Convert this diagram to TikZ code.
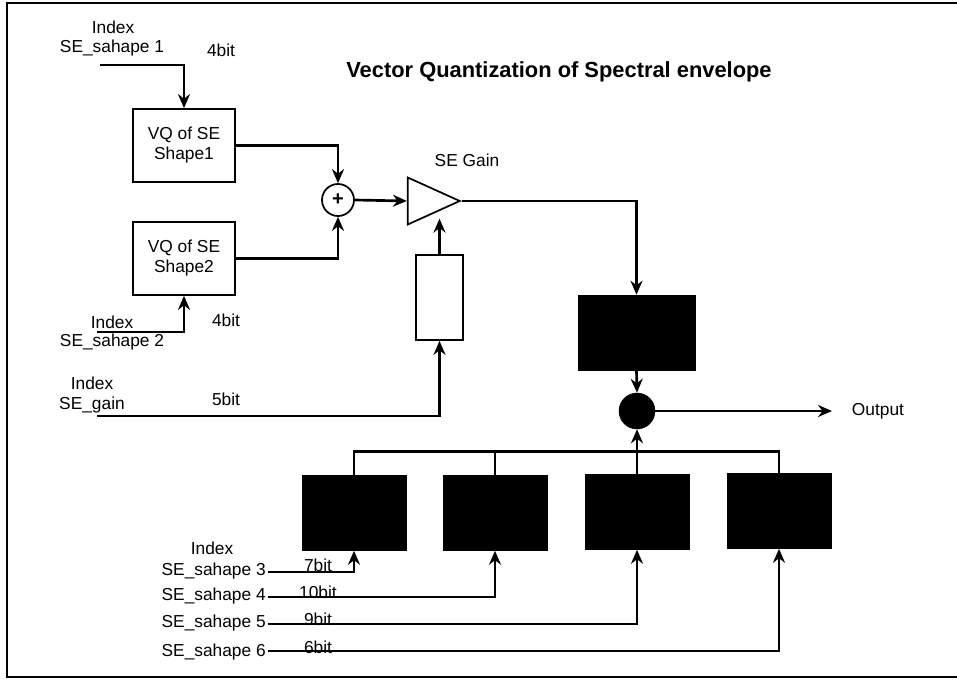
\documentclass[tikz,border=0pt]{standalone}
\usepackage{fontspec}
\setmainfont{Liberation Sans}
\usepackage{tikz}
\usetikzlibrary{positioning,arrows.meta,shapes.geometric}

\begin{document}
\begin{tikzpicture}[
  x=0.75pt, y=-0.75pt,
  font=\fontsize{13}{15}\selectfont,
  blk/.style={draw, line width=1.3pt, fill=white, minimum width=76.5pt, minimum height=54.75pt, inner sep=0pt, align=center},
  dark/.style={draw, fill=black, minimum width=78pt, minimum height=56.25pt, inner sep=0pt},
  ln/.style={line width=2pt},
  arr/.style={line width=2pt, -{Stealth[length=10.5pt, width=9pt]}},
  lbl/.style={inner sep=0pt}]
\useasboundingbox (0,0) rectangle (957,679);
% frame and title
\draw[line width=1.6pt] (957,3) -- (7,3) -- (7,677) -- (957,677);
\node[lbl, font=\fontsize{16.4}{18}\selectfont\bfseries] (title) at (559,72) {Vector Quantization of Spectral envelope};
% shape codebooks and sum
\node[blk] (vqa) at (184,145.5) {VQ of SE\\Shape1};
\node[blk] (vqb) at (184,258.5) {VQ of SE\\Shape2};
\node[draw, circle, line width=1.3pt, minimum size=24pt, inner sep=0pt, font=\fontsize{15}{15}\selectfont\bfseries] (sum) at (338,200) {+};
\draw[arr] (vqa.east) -| (sum.north);
\draw[arr] (vqb.east) -| (sum.south);
% inputs of the shape codebooks
\node[lbl] (ia) at (113,27) {Index};
\node[lbl] (sa) at (112,48) {SE\_sahape 1};
\node[lbl] (ba) at (221,50) {4bit};
\coordinate (ina) at (100,65);
\draw[arr] (ina) -| (vqa.north);
\node[lbl] (ib) at (112,322) {Index};
\node[lbl] (sb) at (112,342) {SE\_sahape 2};
\node[lbl] (bb) at (226,320) {4bit};
\coordinate (inb) at (97,332);
\draw[arr] (inb) -| (vqb.south);
% gain
\node[draw, isosceles triangle, isosceles triangle stretches, line width=1.3pt, minimum width=35.25pt, minimum height=39pt, inner sep=0pt, anchor=apex] (amp) at (462,201) {};
\node[lbl] (gl) at (467,160) {SE Gain};
\draw[arr] (sum.east) -- (amp.west);
\node[draw, line width=1.3pt, fill=white, minimum width=35.25pt, minimum height=63.75pt, inner sep=0pt] (gdec) at (439.5,297.5) {};
\draw[arr] (gdec.north) -- (gdec.north |- amp.south);
\node[lbl] (ig) at (92,383) {Index};
\node[lbl] (sg) at (92,405) {SE\_gain};
\node[lbl] (bg) at (226,399) {5bit};
\coordinate (ing) at (97,416);
\draw[arr] (ing) -| (gdec.south);
% decoder and mixing
\node[dark, minimum width=87.75pt] (dec) at (636.5,332.5) {};
\draw[arr] (amp.apex) -| (dec.north);
\node[draw, circle, fill=black, minimum size=27pt, inner sep=0pt] (mix) at (637,411) {};
\draw[arr] (dec.south) -- (mix.north);
\coordinate (out) at (832,411);
\draw[arr] (mix.east) -- (out);
\node[lbl] (outl) at (878,411) {Output};
% residual codebooks
\node[dark] (d3) at (354,513) {};
\node[dark] (d4) at (495,513) {};
\node[dark] (d5) at (637,512) {};
\node[dark] (d6) at (779,511) {};
\draw[ln] (d3.north) -- ++(0,-24) -| (d6.north);
\draw[ln] (d4.north) -- ++(0,-24);
\draw[arr] (d5.north) -- (mix.south);
\node[lbl] (ir) at (212,548) {Index};
\node[lbl, anchor=east] (s3) at (266,571) {SE\_sahape 3};
\node[lbl, anchor=east] (s4) at (266,596) {SE\_sahape 4};
\node[lbl, anchor=east] (s5) at (266,623) {SE\_sahape 5};
\node[lbl, anchor=east] (s6) at (266,652) {SE\_sahape 6};
\node[lbl] (b3) at (318,565) {7bit};
\node[lbl] (b4) at (318,592) {10bit};
\node[lbl] (b5) at (318,619) {9bit};
\node[lbl] (b6) at (318,647) {6bit};
\coordinate (in3) at (268,572);
\coordinate (in4) at (268,597);
\coordinate (in5) at (268,624);
\coordinate (in6) at (268,651);
\draw[arr] (in3) -| (d3.south);
\draw[arr] (in4) -| (d4.south);
\draw[arr] (in5) -| (d5.south);
\draw[arr] (in6) -| (d6.south);
\end{tikzpicture}
\end{document}
